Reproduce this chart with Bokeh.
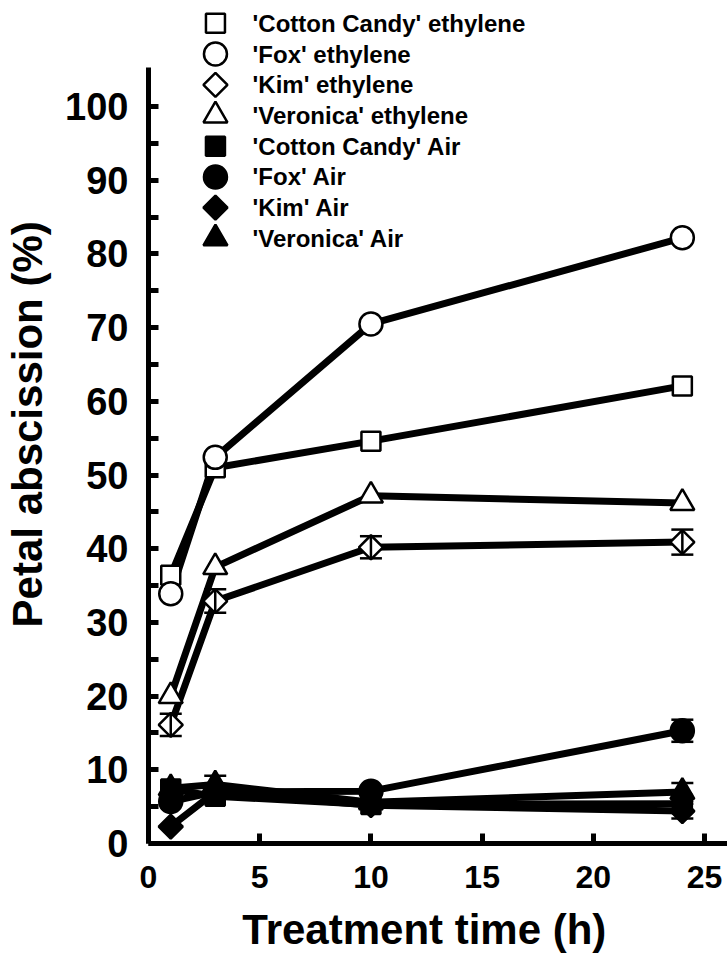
import math
from bokeh.plotting import figure
from bokeh.layouts import row, column
from bokeh.models import FixedTicker, Whisker, ColumnDataSource, TeeHead, Range1d
from bokeh.core.properties import value
from bokeh.embed import file_html
from bokeh.resources import INLINE

# ---- data ----
hours = [1, 3, 10, 24]

cc_eth = [36.4, 51.0, 54.6, 62.1]
fox_eth = [33.9, 52.4, 70.5, 82.2]
kim_eth = [16.1, 32.9, 40.2, 40.9]
ver_eth = [20.0, 37.5, 47.2, 46.2]

cc_air = [7.4, 6.4, 5.3, 5.4]
fox_air = [5.7, 7.0, 7.1, 15.3]
kim_air = [2.3, 7.0, 5.2, 4.4]
ver_air = [7.5, 8.0, 5.6, 7.0]

kim_eth_err = [1.5, 1.6, 1.5, 1.7]
fox_air_err = [0.0, 0.0, 0.0, 1.5]
ver_air_err = [0.0, 1.2, 0.0, 1.2]
kim_air_err = [0.0, 0.0, 0.0, 1.0]

series_names = ["'Cotton Candy' ethylene", "'Fox' ethylene", "'Kim' ethylene",
                "'Veronica' ethylene", "'Cotton Candy' Air", "'Fox' Air",
                "'Kim' Air", "'Veronica' Air"]

y_ticks = [0, 10, 20, 30, 40, 50, 60, 70, 80, 90, 100]
y_minor = [5, 15, 25, 35, 45, 55, 65, 75, 85, 95]
x_ticks = [0, 5, 10, 15, 20, 25]

x_title = "Treatment time (h)"
y_title = "Petal abscission (%)"

FONT = "Liberation Sans"

series = [
    (series_names[0], cc_eth, None, "square", 0.0, False, 19),
    (series_names[1], fox_eth, None, "circle", 0.0, False, 23),
    (series_names[2], kim_eth, kim_eth_err, "square", math.pi / 4, False, 17),
    (series_names[3], ver_eth, None, "triangle", 0.0, False, 24),
    (series_names[4], cc_air, None, "square", 0.0, True, 19),
    (series_names[5], fox_air, fox_air_err, "circle", 0.0, True, 23),
    (series_names[6], kim_air, kim_air_err, "square", math.pi / 4, True, 17),
    (series_names[7], ver_air, ver_air_err, "triangle", 0.0, True, 24),
]

TOTAL_W = 727
TOTAL_H = 962
FRAME_H = 843
BOTTOM = 62
P_H = FRAME_H + BOTTOM
FRAME_LEFT = 148
FRAME_W = TOTAL_W - FRAME_LEFT
TITLE_W = 56
X_MAX = 26.03
Y_MAX = 114.4
Y_AXIS_TOP = 105.3

p = figure(frame_width=FRAME_W, frame_height=FRAME_H, output_backend="svg",
           toolbar_location=None,
           x_range=Range1d(0, X_MAX), y_range=Range1d(0, Y_MAX),
           min_border_left=FRAME_LEFT - TITLE_W, min_border_right=0,
           min_border_top=0, min_border_bottom=BOTTOM)
p.outline_line_color = None
p.xgrid.visible = False
p.ygrid.visible = False
p.background_fill_color = "white"

# lines
for name, vals, errs, mk, ang, filled, sz in series:
    p.line(hours, vals, line_color="black", line_width=7)

# error bars
for name, vals, errs, mk, ang, filled, sz in series:
    if errs is None:
        continue
    xs = [h for h, e in zip(hours, errs) if e > 0]
    up = [v + e for v, e in zip(vals, errs) if e > 0]
    lo = [v - e for v, e in zip(vals, errs) if e > 0]
    src = ColumnDataSource(dict(x=xs, upper=up, lower=lo))
    w = Whisker(source=src, base="x", upper="upper", lower="lower",
                dimension="height", line_width=2.5, line_color="black",
                upper_head=TeeHead(size=22, line_width=2.5, line_color="black"),
                lower_head=TeeHead(size=22, line_width=2.5, line_color="black"),
                level="glyph")
    p.add_layout(w)

# markers
for name, vals, errs, mk, ang, filled, sz in series:
    p.scatter(hours, vals, marker=mk, angle=ang, size=sz,
              fill_color="black" if filled else "white",
              line_color="black", line_width=2.5)

# legend (manual, top)
leg_x = 3.01
leg_tx = 4.68
leg_y0 = 111.3
leg_step = 4.17
for i, (name, vals, errs, mk, ang, filled, sz) in enumerate(series):
    yy = leg_y0 - i * leg_step
    p.scatter([leg_x], [yy], marker=mk, angle=ang, size=sz,
              fill_color="black" if filled else "white",
              line_color="black", line_width=2.5)
    p.text([leg_tx], [yy], text=[name], text_font=value(FONT),
           text_font_style="bold", text_font_size="24px",
           text_baseline="middle", text_align="left", text_color="black")

# axes
xa = p.xaxis[0]
ya = p.yaxis[0]
ya.bounds = (0, Y_AXIS_TOP)
ya.ticker = FixedTicker(ticks=y_ticks, minor_ticks=y_minor)
xa.ticker = FixedTicker(ticks=x_ticks, minor_ticks=[])

for ax in (xa, ya):
    ax.axis_line_width = 5
    ax.axis_line_color = "black"
    ax.major_tick_in = 10
    ax.major_tick_out = 0
    ax.major_tick_line_width = 5
    ax.major_tick_line_color = "black"
    ax.major_label_text_font = FONT
    ax.major_label_text_font_style = "bold"
    ax.major_label_text_color = "black"

ya.minor_tick_in = 10
ya.minor_tick_out = 0
ya.minor_tick_line_width = 5
ya.minor_tick_line_color = "black"
xa.minor_tick_in = 0
xa.minor_tick_out = 0

ya.major_label_text_font_size = "38px"
xa.major_label_text_font_size = "32px"
ya.major_label_standoff = 20
xa.major_label_standoff = 22


def title_panel(w, h):
    f = figure(width=w, height=h, output_backend="svg", toolbar_location=None,
               x_range=Range1d(0, w), y_range=Range1d(0, h), min_border=0,
               x_axis_location=None, y_axis_location=None)
    f.outline_line_color = None
    f.grid.visible = False
    return f


# y-axis title, centred on the drawn axis (0..105)
yf = title_panel(TITLE_W, P_H)
y_center_px = FRAME_H - (Y_AXIS_TOP / 2) * FRAME_H / Y_MAX   # from top
yf.text([27], [P_H - y_center_px], text=[y_title], angle=math.pi / 2,
        text_font=value(FONT), text_font_style="bold", text_font_size="42px",
        text_align="center", text_baseline="middle", text_color="black")

# x-axis title below
XF_H = TOTAL_H - P_H
xf = title_panel(TOTAL_W, XF_H)
x_center_px = FRAME_LEFT + 12.4 * FRAME_W / X_MAX
xf.text([x_center_px], [XF_H - 24], text=[x_title],
        text_font=value(FONT), text_font_style="bold", text_font_size="42px",
        text_align="center", text_baseline="middle", text_color="black")

layout = column(row(yf, p), xf)
open("out.html", "w").write(file_html(layout, INLINE))
